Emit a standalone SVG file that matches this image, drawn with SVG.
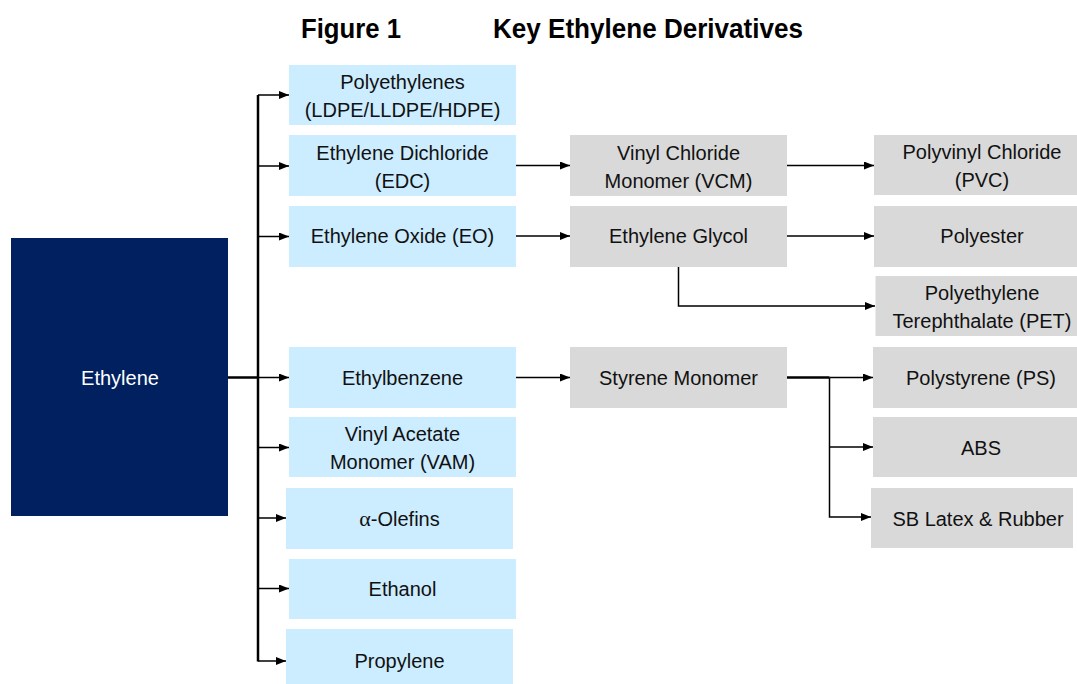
<svg xmlns="http://www.w3.org/2000/svg" width="1077" height="684" viewBox="0 0 1077 684">
<defs>
<style>
.t{font-family:"Liberation Sans",Arial,sans-serif;font-size:20px;fill:#111;text-anchor:middle}
.title{font-family:"Liberation Sans",Arial,sans-serif;font-size:28px;font-weight:bold;fill:#000}
.b{fill:#CCECFF}
.g{fill:#D9D9D9}
.c{stroke:#000;stroke-width:1.5;fill:none}
.k{stroke:#000;stroke-width:2.5;fill:none}
</style>
<marker id="ah" viewBox="0 0 10 8" refX="10" refY="4" markerWidth="10" markerHeight="8" markerUnits="userSpaceOnUse" orient="auto">
<path d="M0,0 L10,4 L0,8 Z" fill="#000"/>
</marker>
</defs>
<rect width="1077" height="684" fill="#fff"/>
<text class="title" x="301" y="38" textLength="100" lengthAdjust="spacingAndGlyphs">Figure 1</text>
<text class="title" x="493" y="38" textLength="310" lengthAdjust="spacingAndGlyphs">Key Ethylene Derivatives</text>

<g id="connectors">
<path class="k" d="M228,377.5 H258"/>
<path class="k" d="M258,95 V661.5"/>
<path class="c" d="M258,95 H289" marker-end="url(#ah)"/>
<path class="c" d="M258,166 H289" marker-end="url(#ah)"/>
<path class="c" d="M258,236.5 H289" marker-end="url(#ah)"/>
<path class="c" d="M258,377.5 H289" marker-end="url(#ah)"/>
<path class="c" d="M258,447.5 H289" marker-end="url(#ah)"/>
<path class="c" d="M258,518 H286" marker-end="url(#ah)"/>
<path class="c" d="M258,588.5 H289" marker-end="url(#ah)"/>
<path class="c" d="M258,661 H286" marker-end="url(#ah)"/>
<path class="c" d="M516,165.5 H570" marker-end="url(#ah)"/>
<path class="c" d="M516,236 H570" marker-end="url(#ah)"/>
<path class="c" d="M516,377.5 H570" marker-end="url(#ah)"/>
<path class="c" d="M787,165.5 H874" marker-end="url(#ah)"/>
<path class="c" d="M787,236 H874" marker-end="url(#ah)"/>
<path class="c" d="M678.5,267 V306 H875" marker-end="url(#ah)"/>
<path class="k" d="M787,377.5 H829.5"/>
<path class="c" d="M829.5,377.5 H873" marker-end="url(#ah)"/>
<path class="c" d="M829.5,377.5 V517 H871" marker-end="url(#ah)"/>
<path class="c" d="M829.5,447 H873" marker-end="url(#ah)"/>
</g>

<g id="ethylene"><rect x="11" y="238" width="217" height="278" fill="#002060"/><text class="t" x="120" y="385" style="fill:#fff">Ethylene</text></g>

<g id="polyethylenes"><rect class="b" x="289" y="65" width="227" height="60"/><text class="t" x="402.5" y="89">Polyethylenes</text><text class="t" x="402.5" y="117">(LDPE/LLDPE/HDPE)</text></g>
<g id="edc"><rect class="b" x="289" y="135" width="227" height="61"/><text class="t" x="402.5" y="159.5">Ethylene Dichloride</text><text class="t" x="402.5" y="187.5">(EDC)</text></g>
<g id="eo"><rect class="b" x="289" y="206" width="227" height="61"/><text class="t" x="402.5" y="243">Ethylene Oxide (EO)</text></g>
<g id="ethylbenzene"><rect class="b" x="289" y="347" width="227" height="61"/><text class="t" x="402.5" y="384.5">Ethylbenzene</text></g>
<g id="vam"><rect class="b" x="289" y="417" width="227" height="60"/><text class="t" x="402.5" y="441">Vinyl Acetate</text><text class="t" x="402.5" y="469">Monomer (VAM)</text></g>
<g id="olefins"><rect class="b" x="286" y="488" width="227" height="61"/><text class="t" x="399.5" y="525.5"><tspan style="font-family:'Liberation Serif',serif;font-size:22px">α</tspan>-Olefins</text></g>
<g id="ethanol"><rect class="b" x="289" y="559" width="227" height="60"/><text class="t" x="402.5" y="596">Ethanol</text></g>
<g id="propylene"><rect class="b" x="286" y="629" width="227" height="55"/><text class="t" x="399.5" y="668">Propylene</text></g>

<g id="vcm"><rect class="g" x="570" y="135" width="217" height="61"/><text class="t" x="678.5" y="159.5">Vinyl Chloride</text><text class="t" x="678.5" y="187.5">Monomer (VCM)</text></g>
<g id="eg"><rect class="g" x="570" y="206" width="217" height="61"/><text class="t" x="678.5" y="243">Ethylene Glycol</text></g>
<g id="styrene"><rect class="g" x="570" y="347" width="217" height="61"/><text class="t" x="678.5" y="384.5">Styrene Monomer</text></g>

<g id="pvc"><rect class="g" x="874" y="135" width="203" height="60"/><text class="t" x="982" y="159">Polyvinyl Chloride</text><text class="t" x="982" y="187">(PVC)</text></g>
<g id="polyester"><rect class="g" x="874" y="206" width="203" height="61"/><text class="t" x="982" y="243">Polyester</text></g>
<g id="pet"><rect class="g" x="875.5" y="276" width="201.5" height="60"/><text class="t" x="982" y="300">Polyethylene</text><text class="t" x="982" y="328">Terephthalate (PET)</text></g>
<g id="ps"><rect class="g" x="873" y="347" width="204" height="61"/><text class="t" x="981" y="384.5">Polystyrene (PS)</text></g>
<g id="abs"><rect class="g" x="873" y="417" width="204" height="60"/><text class="t" x="981" y="454.5">ABS</text></g>
<g id="sb"><rect class="g" x="871" y="488" width="202" height="60"/><text class="t" x="978" y="525.5">SB Latex &amp; Rubber</text></g>
</svg>
